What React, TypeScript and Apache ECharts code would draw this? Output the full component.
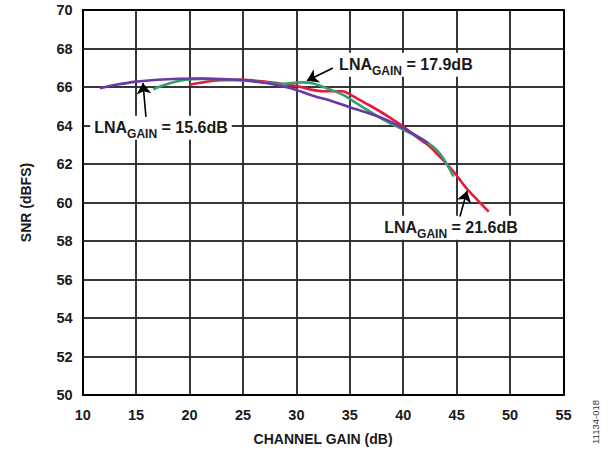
import React, { useEffect, useRef } from "react";
import * as echarts from "echarts";

// Channel gain (dB) / SNR (dBFS) for each LNA gain setting
const lna156Gain = [11.6, 13, 15, 17, 19, 21, 23, 25, 27, 28, 29, 30, 31, 32, 33, 35, 37, 38.5, 40, 41.2, 42.3];
const lna156Snr = [65.93, 66.1, 66.28, 66.38, 66.43, 66.44, 66.41, 66.36, 66.22, 66.12, 66.0, 65.85, 65.65, 65.47, 65.32, 64.95, 64.6, 64.28, 63.86, 63.47, 63.08];

const lna179Gain = [16.6, 17.5, 18.5, 19.5, 21, 23, 25, 27, 28.5, 29.5, 30.5, 31.5, 32.5, 33.5, 34.5, 35.5, 36.9, 38, 40, 41.9, 43.4, 44.7];
const lna179Snr = [65.88, 66.08, 66.25, 66.37, 66.42, 66.4, 66.34, 66.24, 66.16, 66.2, 66.24, 66.2, 66.0, 65.8, 65.55, 65.2, 64.72, 64.35, 63.78, 63.25, 62.56, 61.35];

const lna216Gain = [20.0, 21, 22.85, 25, 27, 28.2, 30, 31.5, 32.5, 33.5, 34.3, 35, 36, 37, 38.5, 40, 41.5, 42.5, 43.4, 44.4, 45, 45.9, 47, 48];
const lna216Snr = [66.12, 66.22, 66.35, 66.37, 66.28, 66.2, 66.05, 65.85, 65.78, 65.78, 65.78, 65.62, 65.3, 65.0, 64.5, 63.94, 63.3, 62.9, 62.4, 61.8, 61.4, 60.75, 60.1, 59.53];

const seriesNames = ["LNA GAIN = 15.6dB", "LNA GAIN = 17.9dB", "LNA GAIN = 21.6dB"];
const labelValues = ["15.6dB", "17.9dB", "21.6dB"];

// tick values (grid lines)
const xTickValues = [15, 20, 25, 30, 35, 40, 45, 50];
const yTickValues = [52, 54, 56, 58, 60, 62, 64, 66, 68];

// annotation anchors in data coordinates: label centre, arrow tail, arrow tip
const labelCentres = [[17.33, 63.88], [40.25, 67.15], [44.47, 58.69]];
const arrowTails = [[15.92, 64.45], [33.42, 66.99], [45.31, 59.27]];
const arrowTips = [[15.64, 66.21], [30.99, 66.32], [45.97, 60.6]];

const xMin = 10, xMax = 55, xStep = 5;
const yMin = 50, yMax = 70, yStep = 2;

const FONT = "'Liberation Sans', Arial, Helvetica, sans-serif";
const colors = ["#6a38a8", "#35a06e", "#e8173d"];
const INK = "#1a1a1a";

const zip = (a: number[], b: number[]) => a.map((v, i) => [v, b[i]]);

export default function App() {
  const ref = useRef<HTMLDivElement>(null);
  useEffect(() => {
    if (!ref.current) return;
    const chart = echarts.init(ref.current, undefined, { renderer: "svg" });
    const datas = [zip(lna156Gain, lna156Snr), zip(lna179Gain, lna179Snr), zip(lna216Gain, lna216Snr)];
    const rich = {
      a: { fontSize: 16, fontWeight: "bold", fontFamily: FONT, color: INK, verticalAlign: "middle", lineHeight: 24 },
      s: { fontSize: 12, fontWeight: "bold", fontFamily: FONT, color: INK, verticalAlign: "bottom", lineHeight: 24 },
    };
    const series: any[] = [];
    // grid lines
    series.push({
      type: "line",
      data: [],
      symbol: "none",
      z: 1,
      markLine: {
        silent: true,
        z: 1,
        symbol: ["none", "none"],
        lineStyle: { color: "#2a2a2a", width: 1.5, type: "solid" },
        label: { show: false },
        emphasis: { disabled: true },
        data: [
          ...xTickValues.map((v) => ({ xAxis: v })),
          ...yTickValues.map((v) => ({ yAxis: v })),
        ],
      },
    });
    datas.forEach((d, i) => {
      series.push({
        name: seriesNames[i],
        type: "line",
        data: d,
        smooth: 0.35,
        symbol: "none",
        z: 3 + (i === 0 ? 2 : i === 1 ? 1 : 0),
        lineStyle: { color: colors[i], width: 2.6 },
        markPoint: {
          symbol: "rect",
          symbolSize: 0,
          z: 10,
          data: [
            {
              coord: labelCentres[i],
              label: {
                show: true,
                position: "inside",
                formatter: "{a|LNA}{s|GAIN}{a| = " + labelValues[i] + "}",
                backgroundColor: "#fff",
                padding: [0, 4, 0, 4],
                rich,
              },
            },
          ],
        },
      });
    });
    // arrows
    series.push({
      type: "line",
      data: [],
      symbol: "none",
      z: 12,
      markLine: {
        z: 12,
        symbol: ["none", "arrow"],
        symbolSize: 11,
        lineStyle: { color: "#000", width: 1.6, type: "solid" },
        label: { show: false },
        emphasis: { disabled: true },
        data: arrowTails.map((t, i) => [{ coord: t }, { coord: arrowTips[i] }]),
      },
    });
    const axisTextStyle = { fontFamily: FONT, fontWeight: "bold", fontSize: 14.5, color: INK };
    const gridLine = { show: true, lineStyle: { color: "#2a2a2a", width: 1.5 } };
    chart.setOption({
      animation: false,
      grid: { left: 82.7, right: 49.5, top: 10, bottom: 57 },
      xAxis: [
        {
          type: "value",
          min: xMin,
          max: xMax,
          interval: xStep,
          name: "CHANNEL GAIN (dB)",
          nameLocation: "middle",
          nameGap: 37,
          nameTextStyle: { ...axisTextStyle, fontSize: 14 },
          axisLine: { show: true, lineStyle: { color: "#000", width: 2 } },
          axisTick: { show: false },
          axisLabel: { ...axisTextStyle, margin: 12 },
          splitLine: gridLine,
        },
        {
          type: "value",
          position: "top",
          min: xMin,
          max: xMax,
          interval: xStep,
          axisLine: { show: true, lineStyle: { color: "#000", width: 2 } },
          axisTick: { show: false },
          axisLabel: { show: false },
          splitLine: { show: false },
        },
      ],
      yAxis: [
        {
          type: "value",
          min: yMin,
          max: yMax,
          interval: yStep,
          name: "SNR (dBFS)",
          nameLocation: "middle",
          nameGap: 50,
          nameRotate: 90,
          nameTextStyle: { ...axisTextStyle, fontSize: 14 },
          axisLine: { show: true, lineStyle: { color: "#000", width: 2 } },
          axisTick: { show: false },
          axisLabel: { ...axisTextStyle, margin: 10 },
          splitLine: gridLine,
        },
        {
          type: "value",
          position: "right",
          min: yMin,
          max: yMax,
          interval: yStep,
          axisLine: { show: true, lineStyle: { color: "#000", width: 2 } },
          axisTick: { show: false },
          axisLabel: { show: false },
          splitLine: { show: false },
        },
      ],
      graphic: [
        {
          type: "text",
          x: 595,
          y: 422,
          rotation: Math.PI / 2,
          style: {
            text: "11134-018",
            fontFamily: FONT,
            fontSize: 9.5,
            fill: "#333",
            align: "center",
            verticalAlign: "middle",
          },
        },
      ],
      series,
    });
    return () => chart.dispose();
  }, []);
  return <div ref={ref} style={{ position: "fixed", left: 0, top: 0, width: 613, height: 452, background: "#fff" }} />;
}
